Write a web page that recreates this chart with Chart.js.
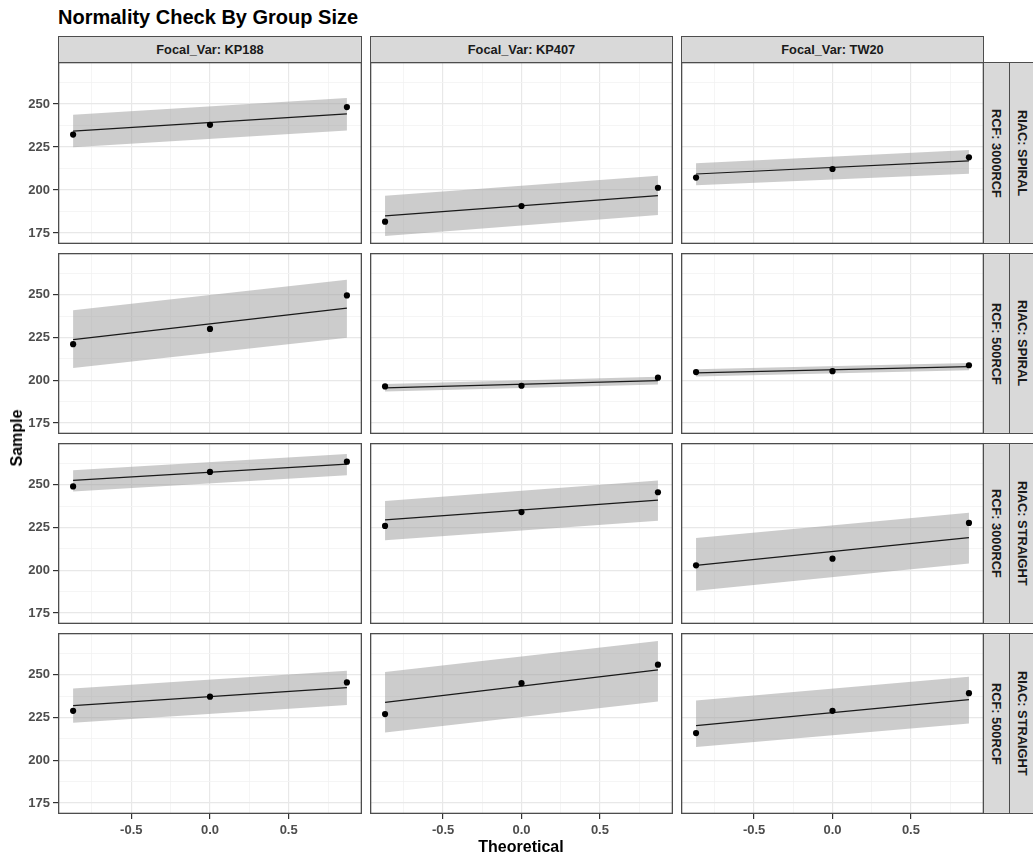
<!DOCTYPE html>
<html>
<head>
<meta charset="utf-8">
<script src="https://cdn.jsdelivr.net/npm/chart.js@4.4.1/dist/chart.umd.min.js"></script>
<style>
  body { margin: 0; background: #fff; font-family: "Liberation Sans", Arial, sans-serif; }
  #page { position: relative; width: 1033px; height: 859px; overflow: hidden; }
  canvas.panel { position: absolute; }
  #title { position: absolute; left: 58px; top: 7px; font-size: 20px; font-weight: bold; line-height: 20px; color: #000; white-space: nowrap; }
  .strip { position: absolute; box-sizing: border-box; background: #d9d9d9; border: 1.3px solid #4d4d4d;
           color: #1a1a1a; font-size: 12.8px; font-weight: bold; display: flex; align-items: center; justify-content: center; white-space: nowrap; }
  .strip.side span { writing-mode: vertical-rl; }
  .axis-title { position: absolute; font-size: 16px; font-weight: bold; color: #000; white-space: nowrap; }
</style>
</head>
<body>
<div id="page">
  <div id="title">Normality Check By Group Size</div>
</div>
<script>
// facet labels
const focalLabels = ["Focal_Var: KP188", "Focal_Var: KP407", "Focal_Var: TW20"];
const rcfLabels = ["RCF: 3000RCF", "RCF: 500RCF", "RCF: 3000RCF", "RCF: 500RCF"];
const riacLabels = ["RIAC: SPIRAL", "RIAC: SPIRAL", "RIAC: STRAIGHT", "RIAC: STRAIGHT"];

// theoretical quantiles (n = 3)
const theoretical = [-0.87, 0, 0.87];

// axis ticks
const xGridValues = [-0.75, -0.5, -0.25, 0, 0.25, 0.5, 0.75];
const xMajor = [-0.5, 0, 0.5];
const yGridValues = [175, 187.5, 200, 212.5, 225, 237.5, 250, 262.5];
const yMajor = [175, 200, 225, 250];
const xLimit = 0.966;
const yMin = 168.6, yMax = 274.4;

// sample values per panel, columns KP188 / KP407 / TW20
const spiral3000Sample = [[232.2, 237.9, 248.2], [181.6, 190.7, 201.3], [207.2, 212.2, 219.0]];
const spiral500Sample = [[221.1, 230.0, 249.6], [196.4, 196.8, 201.5], [204.8, 205.3, 208.8]];
const straight3000Sample = [[249.0, 257.5, 263.5], [225.9, 234.0, 245.6], [202.9, 206.8, 227.7]];
const straight500Sample = [[228.9, 237.2, 245.5], [227.0, 245.1, 255.9], [215.9, 228.9, 239.2]];

// qq line at the two ends
const spiral3000Line = [[234.2, 244.3], [184.9, 196.7], [209.3, 216.9]];
const spiral500Line = [[223.8, 242.2], [195.6, 199.8], [204.3, 208.0]];
const straight3000Line = [[252.5, 262.0], [229.5, 241.0], [202.9, 219.1]];
const straight500Line = [[231.9, 242.5], [233.9, 252.8], [220.3, 235.4]];

// confidence band, lower / upper at the two ends
const spiral3000Lower = [[224.8, 234.6], [173.3, 185.5], [202.7, 209.5]];
const spiral3000Upper = [[243.8, 253.5], [196.7, 208.3], [215.5, 223.3]];
const spiral500Lower = [[207.2, 224.8], [193.4, 197.6], [202.2, 205.9]];
const spiral500Upper = [[240.9, 258.7], [197.8, 202.0], [206.4, 210.1]];
const straight3000Lower = [[246.0, 255.5], [217.5, 229.0], [188.1, 204.0]];
const straight3000Upper = [[258.5, 268.0], [240.5, 252.5], [218.8, 233.6]];
const straight500Lower = [[222.0, 232.3], [216.3, 234.4], [207.7, 221.5]];
const straight500Upper = [[241.9, 252.4], [251.6, 269.7], [235.0, 248.8]];

const rows = [
  { sample: spiral3000Sample, line: spiral3000Line, lower: spiral3000Lower, upper: spiral3000Upper },
  { sample: spiral500Sample, line: spiral500Line, lower: spiral500Lower, upper: spiral500Upper },
  { sample: straight3000Sample, line: straight3000Line, lower: straight3000Lower, upper: straight3000Upper },
  { sample: straight500Sample, line: straight500Line, lower: straight500Lower, upper: straight500Upper }
];

// layout of the facet grid
const panelLeft = [58, 370, 681];
const panelRight = [362, 673, 984];
const panelTop = [62, 253, 443, 633];
const panelBottom = [244, 434, 624, 814];
const fontFamily = "'Liberation Sans', Arial, sans-serif";
const bandColor = "rgba(153,153,153,0.5)";

const panelBorder = {
  id: "panelBorder",
  afterDraw(chart) {
    const a = chart.chartArea;
    const g = chart.ctx;
    g.save();
    g.strokeStyle = "#4d4d4d";
    g.lineWidth = 1.3;
    g.strokeRect(a.left + 0.65, a.top + 0.65, a.right - a.left - 1.3, a.bottom - a.top - 1.3);
    g.restore();
  }
};

function gridColor(majors) {
  return ctx => (ctx.tick && majors.includes(ctx.tick.value) ? "#e8e8e8" : "#f2f2f2");
}
function gridWidth(majors) {
  return ctx => (ctx.tick && majors.includes(ctx.tick.value) ? 1.2 : 0.8);
}
function tickColor(majors) {
  return ctx => (ctx.tick && majors.includes(ctx.tick.value) ? "#333" : "rgba(0,0,0,0)");
}

function panelConfig(r, c) {
  const s = rows[r];
  const x0 = theoretical[0];
  const x1 = theoretical[theoretical.length - 1];
  const showX = r === rows.length - 1;
  const showY = c === 0;
  return {
    type: "scatter",
    data: {
      datasets: [
        {
          type: "line",
          data: [{ x: x0, y: s.upper[c][0] }, { x: x1, y: s.upper[c][1] }],
          fill: "+1",
          backgroundColor: bandColor,
          borderColor: "rgba(0,0,0,0)",
          pointRadius: 0,
          order: 2
        },
        {
          type: "line",
          data: [{ x: x0, y: s.lower[c][0] }, { x: x1, y: s.lower[c][1] }],
          fill: false,
          borderColor: "rgba(0,0,0,0)",
          pointRadius: 0,
          order: 3
        },
        {
          type: "line",
          data: [{ x: x0, y: s.line[c][0] }, { x: x1, y: s.line[c][1] }],
          fill: false,
          borderColor: "#1a1a1a",
          borderWidth: 1.2,
          pointRadius: 0,
          order: 1
        },
        {
          type: "scatter",
          data: theoretical.map((x, i) => ({ x, y: s.sample[c][i] })),
          backgroundColor: "#000",
          borderWidth: 0,
          pointRadius: 3.1,
          order: 0
        }
      ]
    },
    options: {
      responsive: false,
      animation: false,
      layout: { padding: 0, autoPadding: false },
      plugins: { legend: { display: false }, tooltip: { enabled: false } },
      scales: {
        x: {
          type: "linear",
          min: -xLimit,
          max: xLimit,
          afterBuildTicks: sc => { sc.ticks = xGridValues.map(v => ({ value: v })); },
          afterFit: sc => { sc.height = showX ? 34 : 0; sc.paddingLeft = 0; sc.paddingRight = 0; },
          ticks: {
            display: showX,
            autoSkip: false,
            maxRotation: 0,
            padding: 4,
            color: "#4d4d4d",
            font: { family: fontFamily, size: 13, weight: "bold" },
            callback: v => (xMajor.includes(v) ? v.toFixed(1) : "")
          },
          grid: {
            color: gridColor(xMajor),
            lineWidth: gridWidth(xMajor),
            drawTicks: showX,
            tickLength: 5,
            tickWidth: 1.2,
            tickColor: tickColor(xMajor)
          },
          border: { display: false }
        },
        y: {
          type: "linear",
          min: yMin,
          max: yMax,
          afterBuildTicks: sc => { sc.ticks = yGridValues.map(v => ({ value: v })); },
          afterFit: sc => { sc.width = showY ? panelLeft[0] : 0; sc.paddingTop = 0; sc.paddingBottom = 0; },
          ticks: {
            display: showY,
            autoSkip: false,
            padding: 3,
            color: "#4d4d4d",
            font: { family: fontFamily, size: 13, weight: "bold" },
            callback: v => (yMajor.includes(v) ? String(v) : "")
          },
          grid: {
            color: gridColor(yMajor),
            lineWidth: gridWidth(yMajor),
            drawTicks: showY,
            tickLength: 5,
            tickWidth: 1.2,
            tickColor: tickColor(yMajor)
          },
          border: { display: false }
        }
      }
    },
    plugins: [panelBorder]
  };
}

const page = document.getElementById("page");

function addDiv(cls, text, left, top, width, height) {
  const d = document.createElement("div");
  d.className = cls;
  d.style.left = left + "px";
  d.style.top = top + "px";
  d.style.width = width + "px";
  d.style.height = height + "px";
  const sp = document.createElement("span");
  sp.textContent = text;
  d.appendChild(sp);
  page.appendChild(d);
  return d;
}

// top strips
focalLabels.forEach((lab, c) => {
  addDiv("strip", lab, panelLeft[c], 36, panelRight[c] - panelLeft[c], 27);
});

// side strips
rows.forEach((row, r) => {
  const h = panelBottom[r] - panelTop[r];
  addDiv("strip side", rcfLabels[r], panelRight[2] - 1, panelTop[r], 27, h);
  addDiv("strip side", riacLabels[r], panelRight[2] + 25, panelTop[r], 26, h);
});

// panels
rows.forEach((row, r) => {
  focalLabels.forEach((lab, c) => {
    const left = c === 0 ? 0 : panelLeft[c];
    const cv = document.createElement("canvas");
    cv.className = "panel";
    cv.width = panelRight[c] - left;
    cv.height = panelBottom[r] - panelTop[r] + (r === rows.length - 1 ? 34 : 0);
    cv.style.left = left + "px";
    cv.style.top = panelTop[r] + "px";
    page.appendChild(cv);
    new Chart(cv, panelConfig(r, c));
  });
});

// axis titles
const yTitle = document.createElement("div");
yTitle.className = "axis-title";
yTitle.textContent = "Sample";
yTitle.style.left = "17px";
yTitle.style.top = "438px";
yTitle.style.transform = "translate(-50%, -50%) rotate(-90deg)";
page.appendChild(yTitle);

const xTitle = document.createElement("div");
xTitle.className = "axis-title";
xTitle.textContent = "Theoretical";
xTitle.style.left = "521px";
xTitle.style.top = "847px";
xTitle.style.transform = "translate(-50%, -50%)";
page.appendChild(xTitle);
</script>
</body>
</html>
